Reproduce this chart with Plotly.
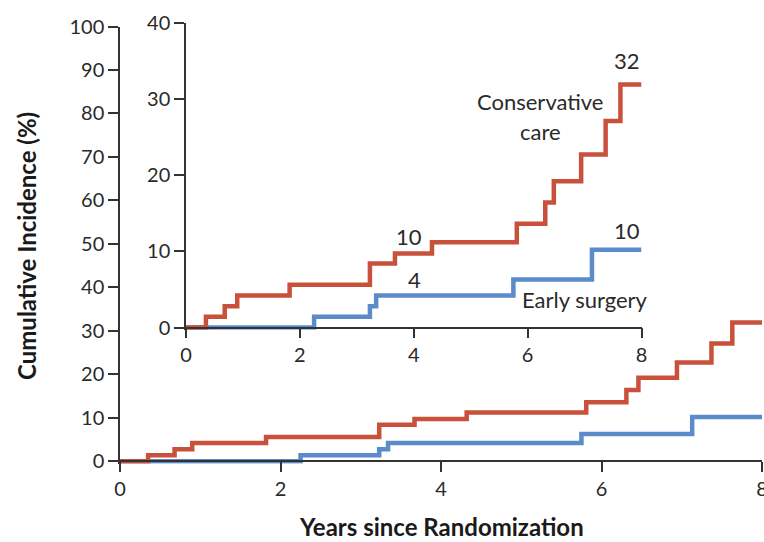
import plotly.graph_objects as go

# Data (years since randomization, cumulative incidence %)
cons_years = [0, 0.35, 0.68, 0.90, 1.82, 3.23, 3.67, 4.32, 5.81, 6.31, 6.46, 6.94, 7.37, 7.63, 8.0]
cons_pct   = [0, 1.4, 2.8, 4.2, 5.6, 8.4, 9.7, 11.2, 13.6, 16.4, 19.2, 22.7, 27.1, 31.9, 31.9]
surg_years = [0, 2.25, 3.23, 3.34, 5.75, 7.13, 8.0]
surg_pct   = [0, 1.4, 2.8, 4.2, 6.3, 10.2, 10.2]

main_yticks = [0, 10, 20, 30, 40, 50, 60, 70, 80, 90, 100]
inset_yticks = [0, 10, 20, 30, 40]
xticks = [0, 2, 4, 6, 8]

RED = "#C9503B"
BLUE = "#5B8BC9"
AX = "#333333"
TXT = "#2a2a2a"
FONT = "Lato"
W, H = 764, 542

def px_x(p):
    return p / W

def px_y(p):
    return (H - p) / H

fig = go.Figure()
for xa, ya in [("x", "y"), ("x2", "y2")]:
    fig.add_trace(go.Scatter(x=surg_years, y=surg_pct, mode="lines", line=dict(color=BLUE, width=4.5, shape="hv"),
                             xaxis=xa, yaxis=ya, showlegend=False, hoverinfo="skip"))
    fig.add_trace(go.Scatter(x=cons_years, y=cons_pct, mode="lines", line=dict(color=RED, width=4.5, shape="hv"),
                             xaxis=xa, yaxis=ya, showlegend=False, hoverinfo="skip"))

tickfont = dict(family=FONT, size=20, color=TXT)
axcommon = dict(showgrid=False, zeroline=False, showline=True, linecolor=AX, linewidth=1.5, automargin=False,
                ticks="outside", ticklen=10, tickwidth=1.5, tickcolor=AX, tickfont=tickfont,
                ticklabeloverflow="allow")

main_bottom = 461.3 + 0.55 * 4.348
inset_bottom = 327.5 + 0.3 * 7.62
fig.update_layout(
    width=W, height=H, margin=dict(l=0, r=0, t=0, b=0, autoexpand=False),
    paper_bgcolor="white", plot_bgcolor="rgba(0,0,0,0)",
    xaxis=dict(domain=[px_x(120), px_x(762)], range=[0, 8], tickvals=xticks, anchor="free",
               position=px_y(461.3), **axcommon),
    yaxis=dict(domain=[px_y(main_bottom), px_y(26.5)], range=[-0.55, 100], tickvals=main_yticks,
               anchor="x", **axcommon),
    xaxis2=dict(domain=[px_x(186), px_x(641.5)], range=[0, 8], tickvals=xticks, anchor="free",
                position=px_y(327.5), **axcommon),
    yaxis2=dict(domain=[px_y(inset_bottom), px_y(22.7)], range=[-0.3, 40], tickvals=inset_yticks,
                anchor="x2", **axcommon),
)

afont = dict(family=FONT, size=22, color=TXT)
notes = [
    ("32", 7.74, 34.98),
    ("Conservative", 6.23, 29.63),
    ("care", 6.23, 25.7),
    ("10", 3.92, 11.91),
    ("4", 4.02, 6.32),
    ("10", 7.75, 12.7),
    ("Early surgery", 7.01, 3.61),
]
for t, x, y in notes:
    fig.add_annotation(text=t, x=x, y=y, xref="x2", yref="y2", showarrow=False,
                       xanchor="center", yanchor="middle", font=afont)

tfont = dict(family=FONT, size=24, color="#1a1a1a", weight="bold")
fig.add_annotation(text="Cumulative Incidence (%)", x=px_x(27), y=px_y(246), xref="paper", yref="paper",
                   textangle=-90, showarrow=False, xanchor="center", yanchor="middle", font=tfont)
fig.add_annotation(text="Years since Randomization", x=px_x(441), y=px_y(526), xref="paper", yref="paper",
                   showarrow=False, xanchor="center", yanchor="middle", font=tfont)

fig.write_html("out.html")
